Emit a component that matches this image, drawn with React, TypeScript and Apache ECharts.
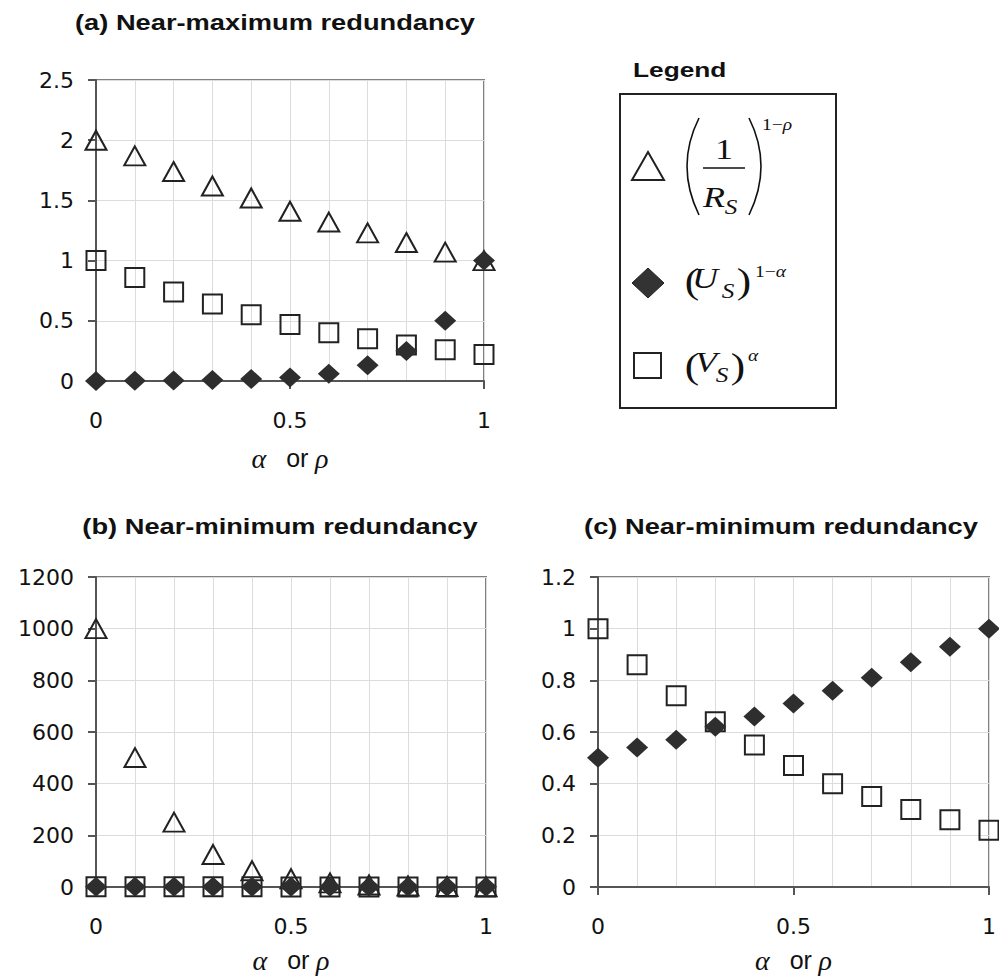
import React, { useEffect, useRef } from "react";
import * as echarts from "echarts";

const xs = [0, 0.1, 0.2, 0.3, 0.4, 0.5, 0.6, 0.7, 0.8, 0.9, 1.0];
// (a) near-maximum redundancy
const aTriangle = [2.0, 1.87, 1.74, 1.62, 1.52, 1.41, 1.32, 1.23, 1.15, 1.07, 1.0];
const aDiamond = [0.001, 0.002, 0.004, 0.008, 0.016, 0.03, 0.06, 0.13, 0.25, 0.5, 1.0];
const aSquare = [1.0, 0.86, 0.74, 0.64, 0.55, 0.47, 0.4, 0.35, 0.3, 0.26, 0.22];
// (b)/(c) near-minimum redundancy
const bTriangle = [1000, 501, 251, 126, 63, 32, 16, 8, 4, 2, 1];
const cDiamond = [0.5, 0.54, 0.57, 0.62, 0.66, 0.71, 0.76, 0.81, 0.87, 0.93, 1.0];
const cSquare = [1.0, 0.86, 0.74, 0.64, 0.55, 0.47, 0.4, 0.35, 0.3, 0.26, 0.22];

const yA = { min: 0, max: 2.5, interval: 0.5 };
const yB = { min: 0, max: 1200, interval: 200 };
const yC = { min: 0, max: 1.2, interval: 0.2 };

const pts = (vals: number[]) => xs.map((x, i) => [x, vals[i]]);

const TICK_FONT = "DejaVu Sans";
const SANS = "Liberation Sans";
const SERIF = "Liberation Serif";
const DARK = "#222222";

function xAxisFor(gridIndex: number, nameGap: number) {
  return {
    type: "value",
    gridIndex,
    min: 0,
    max: 1,
    interval: 0.5,
    axisLine: { show: true, onZero: false, lineStyle: { color: "#555", width: 2 } },
    axisTick: { show: true, length: 8, lineStyle: { color: "#555", width: 2 } },
    minorTick: { show: false, splitNumber: 5 },
    minorSplitLine: { show: true, lineStyle: { color: "#dcdcdc", width: 1 } },
    splitLine: { show: true, lineStyle: { color: "#dcdcdc", width: 1 } },
    axisLabel: {
      margin: 28,
      fontFamily: TICK_FONT,
      fontSize: 22,
      color: "#111",
      formatter: (v: number) => String(v),
    },
    name: "{g|α}   {n|or} {g|ρ}",
    nameLocation: "middle",
    nameGap,
    nameTextStyle: {
      fontFamily: SANS,
      fontSize: 24,
      color: "#111",
      rich: {
        g: { fontFamily: SERIF, fontStyle: "italic", fontSize: 28, color: "#111" },
        n: { fontFamily: SANS, fontSize: 25, color: "#111" },
      },
    },
  };
}

function yAxisFor(gridIndex: number, r: { min: number; max: number; interval: number }) {
  return {
    type: "value",
    gridIndex,
    min: r.min,
    max: r.max,
    interval: r.interval,
    axisLine: { show: true, onZero: false, lineStyle: { color: "#555", width: 2 } },
    axisTick: { show: true, length: 8, lineStyle: { color: "#555", width: 2 } },
    splitLine: { show: true, lineStyle: { color: "#dcdcdc", width: 1 } },
    axisLabel: {
      margin: 22,
      fontFamily: TICK_FONT,
      fontSize: 22,
      color: "#111",
      formatter: (v: number) => String(v),
    },
  };
}

const triStyle = {
  symbol: "triangle",
  symbolSize: [21, 19],
  itemStyle: { color: "rgba(255,255,255,0)", borderColor: DARK, borderWidth: 2, opacity: 1 },
};
const sqStyle = {
  symbol: "rect",
  symbolSize: [19, 19],
  itemStyle: { color: "rgba(255,255,255,0)", borderColor: DARK, borderWidth: 2, opacity: 1 },
};
const diaStyle = {
  symbol: "diamond",
  symbolSize: [22, 20],
  itemStyle: { color: "#2e2e2e", borderWidth: 0, opacity: 1 },
};

function scatter(name: string, idx: number, vals: number[], st: any) {
  return {
    type: "scatter",
    name,
    xAxisIndex: idx,
    yAxisIndex: idx,
    data: pts(vals),
    clip: false,
    emphasis: { disabled: true },
    ...st,
  };
}

function titleText(text: string, x: number, y: number) {
  return {
    type: "text",
    x,
    y,
    scaleX: 1.24,
    style: {
      text,
      fontFamily: SANS,
      fontWeight: "bold",
      fontSize: 22,
      fill: "#111",
      align: "center",
      verticalAlign: "middle",
      textAlign: "center",
      textVerticalAlign: "middle",
    },
  };
}

function mathText(text: string, x: number, y: number, size: number, italic: boolean, align = "center") {
  return {
    type: "text",
    x,
    y,
    scaleX: 1.2,
    style: {
      text,
      fontFamily: SERIF,
      fontStyle: italic ? "italic" : "normal",
      fontSize: size,
      fill: "#111",
      align,
      verticalAlign: "middle",
      textAlign: align,
      textVerticalAlign: "middle",
    },
  };
}

function supText(plain: string, ital: string, x: number, y: number) {
  return {
    type: "text",
    x,
    y,
    scaleX: 1.15,
    style: {
      text: (plain ? "{n|" + plain + "}" : "") + "{i|" + ital + "}",
      rich: {
        n: { fontFamily: SERIF, fontSize: 17, fill: "#111", color: "#111" },
        i: { fontFamily: SERIF, fontStyle: "italic", fontSize: 17, fill: "#111", color: "#111" },
      },
      align: "left",
      verticalAlign: "middle",
      textAlign: "left",
      textVerticalAlign: "middle",
    },
  };
}

export default function App() {
  const ref = useRef<HTMLDivElement>(null);
  useEffect(() => {
    if (!ref.current) return;
    const chart = echarts.init(ref.current, null, { renderer: "svg" });
    const gridBase = { show: true, borderColor: "#808080", borderWidth: 2, backgroundColor: "transparent" };
    const option: any = {
      animation: false,
      backgroundColor: "#ffffff",
      grid: [
        { ...gridBase, left: 96, top: 80, width: 388, height: 301 },
        { ...gridBase, left: 96, top: 577, width: 390, height: 310 },
        { ...gridBase, left: 598, top: 577, width: 391, height: 310 },
      ],
      xAxis: [xAxisFor(0, 63), xAxisFor(1, 59), xAxisFor(2, 59)],
      yAxis: [yAxisFor(0, yA), yAxisFor(1, yB), yAxisFor(2, yC)],
      series: [
        scatter("(1/R_S)^(1-ρ)", 0, aTriangle, triStyle),
        scatter("(V_S)^α", 0, aSquare, sqStyle),
        scatter("(U_S)^(1-α)", 0, aDiamond, diaStyle),
        scatter("(1/R_S)^(1-ρ)", 1, bTriangle, triStyle),
        scatter("(V_S)^α", 1, cSquare, sqStyle),
        scatter("(U_S)^(1-α)", 1, cDiamond, diaStyle),
        scatter("(V_S)^α", 2, cSquare, sqStyle),
        scatter("(U_S)^(1-α)", 2, cDiamond, diaStyle),
      ],
      graphic: [
        titleText("(a) Near-maximum redundancy", 275, 22),
        titleText("(b) Near-minimum redundancy", 280, 526),
        titleText("(c) Near-minimum redundancy", 781, 526),
        {
          type: "text",
          x: 633,
          y: 69,
          scaleX: 1.25,
          style: {
            text: "Legend",
            fontFamily: SANS,
            fontWeight: "bold",
            fontSize: 21,
            fill: "#111",
            align: "left",
            verticalAlign: "middle",
            textAlign: "left",
            textVerticalAlign: "middle",
          },
        },
        {
          type: "rect",
          shape: { x: 620, y: 94, width: 216, height: 314 },
          style: { fill: "none", stroke: "#222", lineWidth: 2 },
        },
        // legend symbols
        {
          type: "polygon",
          shape: { points: [[632, 180], [664, 180], [648, 152]] },
          style: { fill: "none", stroke: "#222", lineWidth: 2 },
        },
        {
          type: "polygon",
          shape: { points: [[648, 268], [664, 283], [648, 298], [632, 283]] },
          style: { fill: "#333", stroke: "#222", lineWidth: 1 },
        },
        {
          type: "rect",
          shape: { x: 634, y: 353, width: 27, height: 25 },
          style: { fill: "none", stroke: "#222", lineWidth: 2 },
        },
        // formula 1: (1/R_S)^(1-ρ)
        {
          type: "bezierCurve",
          shape: { x1: 699, y1: 118, x2: 699, y2: 215, cpx1: 675, cpy1: 166 },
          style: { fill: "none", stroke: "#111", lineWidth: 1.6 },
        },
        {
          type: "bezierCurve",
          shape: { x1: 749, y1: 118, x2: 749, y2: 215, cpx1: 773, cpy1: 166 },
          style: { fill: "none", stroke: "#111", lineWidth: 1.6 },
        },
        mathText("1", 724, 149, 30, false),
        {
          type: "line",
          shape: { x1: 703, y1: 168, x2: 745, y2: 168 },
          style: { stroke: "#111", lineWidth: 1.5 },
        },
        mathText("R", 714, 197, 30, true),
        mathText("S", 731, 207, 21, true),
        supText("1−", "ρ", 762, 124),
        // formula 2: (U_S)^(1-α)
        mathText("(", 692, 281, 36, false),
        mathText("U", 705, 278, 30, true),
        mathText("S", 728, 291, 21, true),
        mathText(")", 744, 281, 36, false),
        supText("1−", "α", 755, 271),
        // formula 3: (V_S)^α
        mathText("(", 692, 366, 36, false),
        mathText("V", 706, 362, 30, true),
        mathText("S", 722, 375, 21, true),
        mathText(")", 738, 366, 36, false),
        supText("", "α", 748, 355),
      ],
    };
    chart.setOption(option);
    return () => chart.dispose();
  }, []);
  return (
    <div
      ref={ref}
      style={{ position: "fixed", left: 0, top: 0, width: 999, height: 980, background: "#fff" }}
    />
  );
}
